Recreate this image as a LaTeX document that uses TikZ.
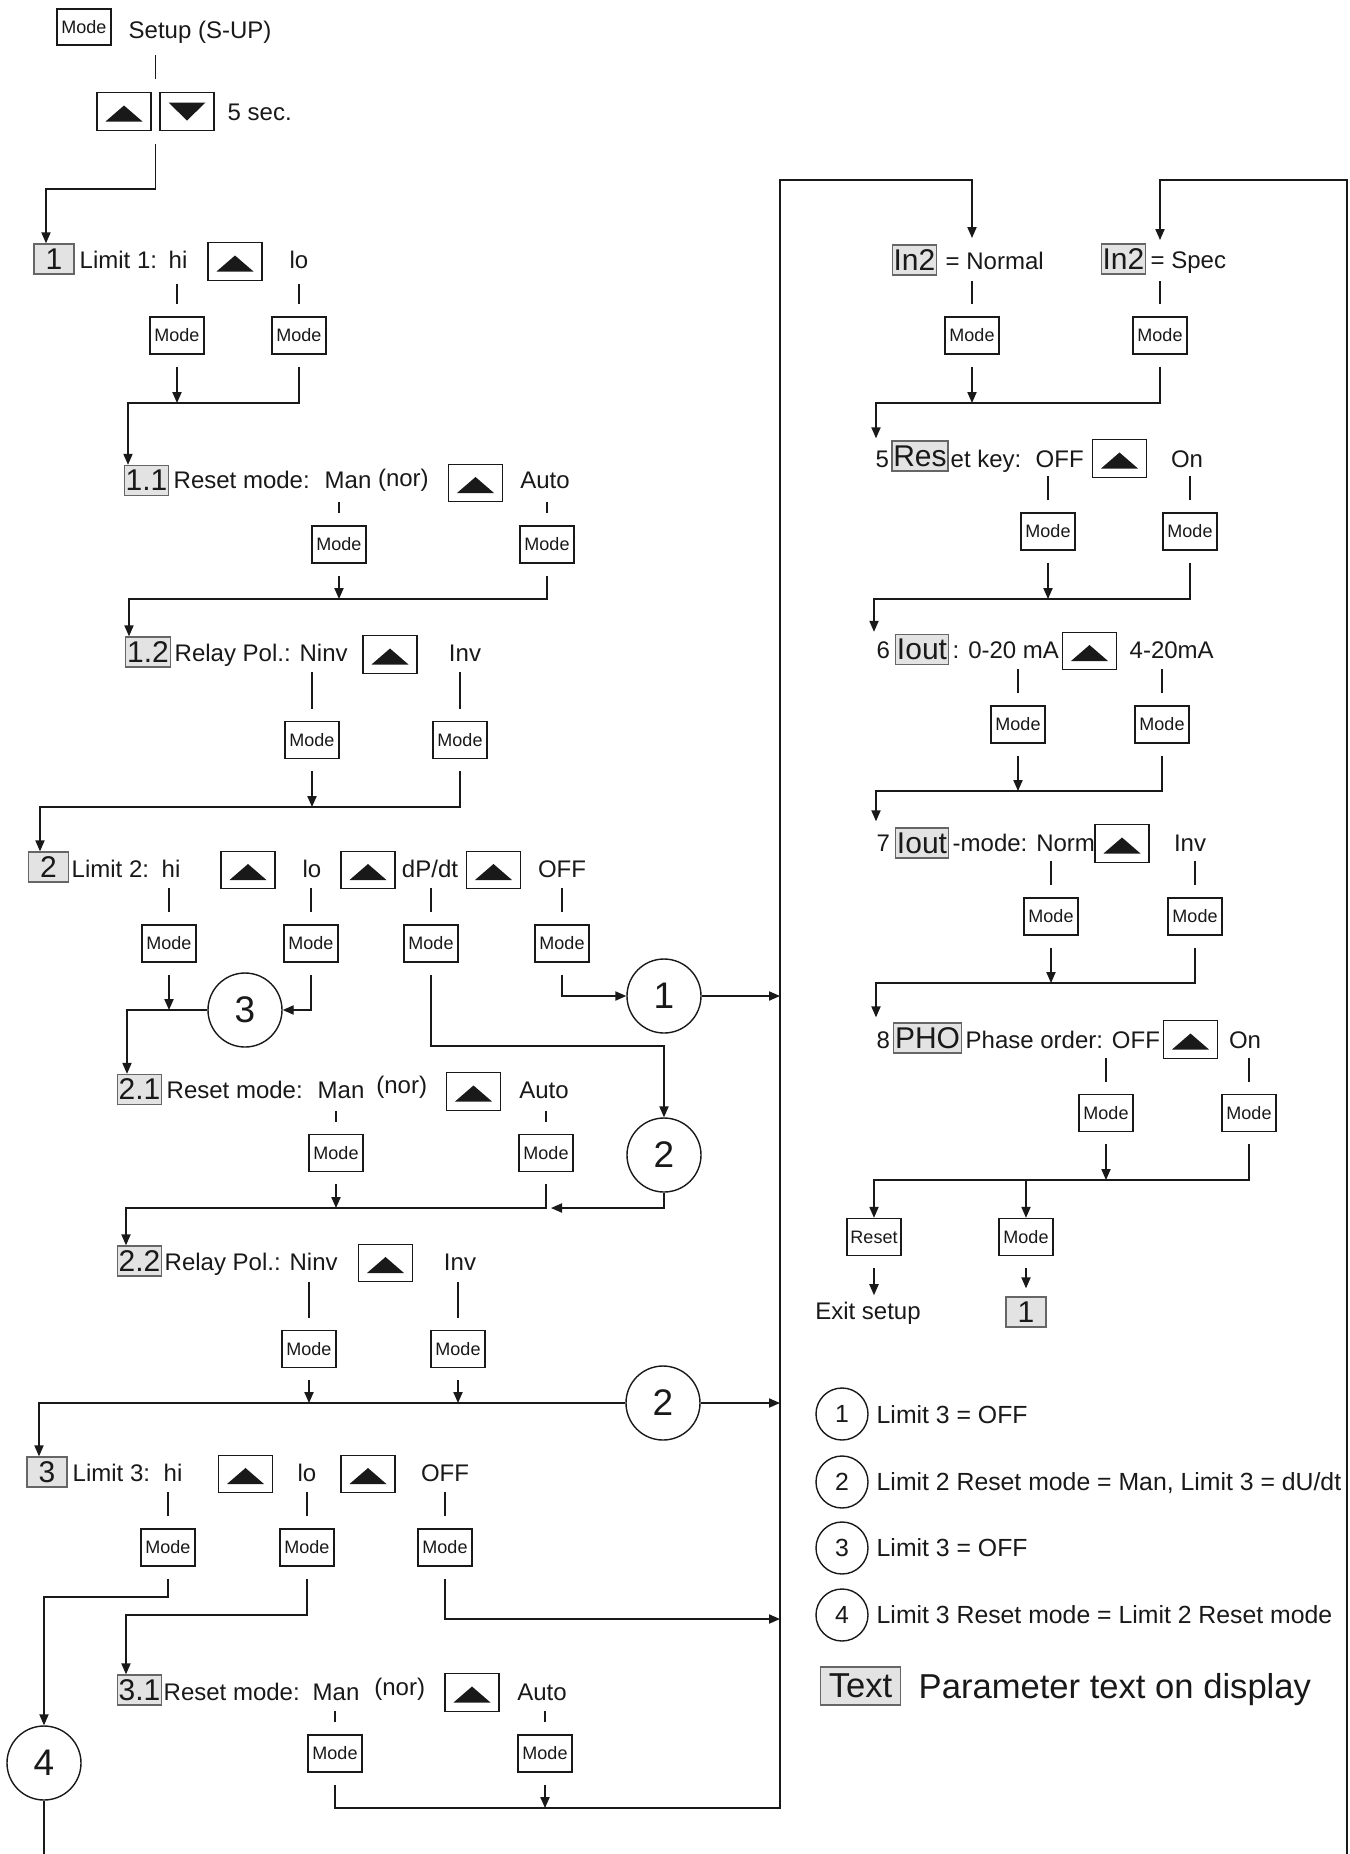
\documentclass[tikz,border=0pt]{standalone}
\usepackage{fontspec}
\setmainfont{Liberation Sans}
\usetikzlibrary{arrows.meta,calc}
\newcommand{\fsz}[1]{\fontsize{#1}{#1}\selectfont}
\begin{document}
\begin{tikzpicture}[x=0.5pt,y=-0.5pt,line width=0.7pt,color=black!90,
 arr/.style={-{Triangle[length=5.5pt,width=4.6pt]}},
 lbl/.style={inner sep=0pt,anchor=base west,font=\fsz{12}},
 opt/.style={inner sep=0pt,anchor=base,font=\fsz{12}},
 lg/.style={inner sep=0pt,anchor=base west,font=\fsz{12.4}},
 gbox/.style={draw=black!60,fill=black!11,inner xsep=0.7pt,inner ysep=0pt,minimum width=20pt,minimum height=15pt,font=\fsz{15}},
 modekey/.style={draw,inner sep=0pt,minimum width=27pt,minimum height=18.5pt,font=\fsz{9}},
 upkey/.style={draw,inner sep=0pt,minimum width=27pt,minimum height=18.75pt,
   path picture={\fill ([shift={(-9.25pt,-5pt)}]path picture bounding box.center) -- ++(18.5pt,0pt) -- ++(-9.25pt,8pt) -- cycle;}},
 downkey/.style={draw,inner sep=0pt,minimum width=27pt,minimum height=18.75pt,
   path picture={\fill ([shift={(-9.25pt,4.5pt)}]path picture bounding box.center) -- ++(18.5pt,0pt) -- ++(-9.25pt,-9pt) -- cycle;}},
 bigc/.style={circle,draw,inner sep=0pt,minimum size=37pt,font=\fsz{18.5}},
 smallc/.style={circle,draw,inner sep=0pt,minimum size=26pt,font=\fsz{12.4}},
]
\useasboundingbox (0,0) rectangle (1350,1854);
\fill[white] (0,0) rectangle (1350,1854);

% ---------- nodes: top ----------
\node[modekey,minimum height=18pt] (mtop) at (84,27) {Mode};
\node[lbl] (tsetup) at (128,38) {Setup (S-UP)};
\node[upkey] (ktu) at (124,111.5) {};
\node[downkey] (ktd) at (187,111.5) {};
\node[lbl] (t5s) at (227,120) {5 sec.};

% row 1
\node[gbox] (b1) at (54,259) {1};
\node[lbl] (t1) at (79,268) {Limit 1:};
\node[opt] (o1a) at (178,268) {hi};
\node[upkey] (k1) at (235,261.5) {};
\node[opt] (o1b) at (299,268) {lo};
\node[modekey] (m1a) at (177,335.5) {Mode};
\node[modekey] (m1b) at (299,335.5) {Mode};

% row 1.1
\node[gbox] (b11) at (146.5,480.5) {1.1};
\node[lbl] (t11) at (173,488) {Reset mode:};
\node[lbl] (o11a) at (324,488) {Man \raisebox{1pt}{(nor)}};
\node[upkey] (k11) at (475.5,483) {};
\node[opt] (o11b) at (545,488) {Auto};
\node[modekey] (m11a) at (339,544.5) {Mode};
\node[modekey] (m11b) at (547,544.5) {Mode};

% row 1.2
\node[gbox] (b12) at (148,652) {1.2};
\node[lbl] (t12) at (174,661) {Relay Pol.: Ninv};
\node[upkey] (k12) at (390,654.5) {};
\node[opt] (o12b) at (465,661) {Inv};
\node[modekey] (m12a) at (312,740) {Mode};
\node[modekey] (m12b) at (460,740) {Mode};

% row 2
\node[gbox] (b2) at (48.5,867) {2};
\node[lbl] (t2) at (71,877) {Limit 2:};
\node[opt] (o2a) at (171,877) {hi};
\node[upkey] (k2a) at (248,870) {};
\node[opt] (o2b) at (312,877) {lo};
\node[upkey] (k2b) at (368,870) {};
\node[opt] (o2c) at (430,877) {dP/dt};
\node[upkey] (k2c) at (493.5,870) {};
\node[opt] (o2d) at (562,877) {OFF};
\node[modekey] (m2a) at (169,943.5) {Mode};
\node[modekey] (m2b) at (311,943.5) {Mode};
\node[modekey] (m2c) at (431,943.5) {Mode};
\node[modekey] (m2d) at (562,943.5) {Mode};
\node[bigc] (c3) at (245,1010) {3};
\node[bigc] (c1) at (664,996) {1};
\node[bigc] (c2) at (664,1155) {2};

% row 2.1
\node[gbox] (b21) at (139.5,1089.5) {2.1};
\node[lbl] (t21) at (166,1098) {Reset mode:};
\node[lbl] (o21a) at (317,1098) {Man\hspace{6pt}\raisebox{2.5pt}{(nor)}};
\node[upkey] (k21) at (473.5,1091.5) {};
\node[opt] (o21b) at (544,1098) {Auto};
\node[modekey] (m21a) at (336,1153) {Mode};
\node[modekey] (m21b) at (546,1153) {Mode};

% row 2.2
\node[gbox] (b22) at (139.5,1261) {2.2};
\node[lbl] (t22) at (164,1270) {Relay Pol.: Ninv};
\node[upkey] (k22) at (385.5,1263) {};
\node[opt] (o22b) at (460,1270) {Inv};
\node[modekey] (m22a) at (309,1349) {Mode};
\node[modekey] (m22b) at (458,1349) {Mode};
\node[bigc] (c2b) at (663,1403) {2};

% row 3
\node[gbox] (b3) at (47,1472) {3};
\node[lbl] (t3) at (72,1481) {Limit 3:};
\node[opt] (o3a) at (173,1481) {hi};
\node[upkey] (k3a) at (245.5,1474) {};
\node[opt] (o3b) at (307,1481) {lo};
\node[upkey] (k3b) at (368,1474) {};
\node[opt] (o3c) at (445,1481) {OFF};
\node[modekey] (m3a) at (168,1547.5) {Mode};
\node[modekey] (m3b) at (307,1547.5) {Mode};
\node[modekey] (m3c) at (445,1547.5) {Mode};
\node[bigc] (c4) at (44,1763) {4};

% row 3.1
\node[gbox] (b31) at (139.5,1690) {3.1};
\node[lbl] (t31) at (163,1700) {Reset mode:};
\node[lbl] (o31a) at (312,1700) {Man\hspace{7.5pt}\raisebox{2.5pt}{(nor)}};
\node[upkey] (k31) at (472,1692.5) {};
\node[opt] (o31b) at (542,1700) {Auto};
\node[modekey] (m31a) at (335,1753.5) {Mode};
\node[modekey] (m31b) at (545,1753.5) {Mode};

% right column: In2
\node[gbox] (bi1) at (914.5,260) {In2};
\node[lbl] (ti1) at (945,269) {= Normal};
\node[gbox] (bi2) at (1123.5,259) {In2};
\node[lbl] (ti2) at (1150,268) {= Spec};
\node[modekey] (mi1) at (972,335.5) {Mode};
\node[modekey] (mi2) at (1160,335.5) {Mode};

% row 5
\node[lbl] (n5) at (875,467) {5};
\node[gbox] (b5) at (920,456) {Res};
\node[lbl] (t5) at (950,467) {et key:};
\node[lbl] (o5a) at (1035,467) {OFF};
\node[upkey] (k5) at (1119.5,458.5) {};
\node[opt] (o5b) at (1187,467) {On};
\node[modekey] (m5a) at (1048,531.5) {Mode};
\node[modekey] (m5b) at (1190,531.5) {Mode};

% row 6
\node[lbl] (n6) at (876,658) {6};
\node[gbox] (b6) at (922,649.5) {Iout};
\node[lbl] (t6) at (952,658) {: 0-20 mA};
\node[upkey] (k6) at (1089.5,651) {};
\node[lbl] (o6b) at (1129,658) {4-20mA};
\node[modekey] (m6a) at (1018,724.5) {Mode};
\node[modekey] (m6b) at (1162,724.5) {Mode};

% row 7
\node[lbl] (n7) at (876,851) {7};
\node[gbox] (b7) at (922,843) {Iout};
\node[lbl] (t7) at (952,851) {-mode: Norm};
\node[upkey] (k7) at (1122,843.5) {};
\node[opt] (o7b) at (1190,851) {Inv};
\node[modekey] (m7a) at (1051,916.5) {Mode};
\node[modekey] (m7b) at (1195,916.5) {Mode};

% row 8
\node[lbl] (n8) at (876,1048) {8};
\node[gbox] (b8) at (927.5,1038) {PHO};
\node[lbl] (t8) at (965,1048) {Phase order: OFF};
\node[upkey] (k8) at (1190.5,1039.5) {};
\node[opt] (o8b) at (1245,1048) {On};
\node[modekey] (m8a) at (1106,1113) {Mode};
\node[modekey] (m8b) at (1249,1113) {Mode};
\node[modekey] (reset) at (874,1237) {Reset};
\node[modekey] (mfin) at (1026,1237) {Mode};
\node[opt] (exit) at (868,1319) {Exit setup};
\node[gbox] (bend) at (1026,1312) {1};

% legend
\node[smallc] (l1) at (842,1414) {1};
\node[lg] (lt1) at (876,1423) {Limit 3 = OFF};
\node[smallc] (l2) at (842,1482) {2};
\node[lg] (lt2) at (876,1490) {Limit 2 Reset mode = Man, Limit 3 = dU/dt};
\node[smallc] (l3) at (842,1548) {3};
\node[lg] (lt3) at (876,1556) {Limit 3 = OFF};
\node[smallc] (l4) at (842,1615) {4};
\node[lg] (lt4) at (876,1623) {Limit 3 Reset mode = Limit 2 Reset mode};
\node[gbox,font=\fsz{17.3},inner xsep=4pt,minimum height=19pt] (ltext) at (860.5,1686) {Text};
\node[lbl,font=\fsz{17.3}] (ltt) at (918,1698) {Parameter text on display};

% ---------- coordinates ----------
\coordinate (j0) at (46,189);
\coordinate (j1) at (128,403);
\coordinate (j2) at (129,599);
\coordinate (j3) at (40,807);
\coordinate (j4) at (127,1010);
\coordinate (j5) at (664,1046);
\coordinate (j6) at (126,1208);
\coordinate (j7) at (39,1403);
\coordinate (j8) at (44,1597);
\coordinate (j9) at (126,1615);
\coordinate (j10) at (780,1619);
\coordinate (j11) at (780,1808);
\coordinate (vtop) at (780,180);
\coordinate (vrb) at (1347,1854);
\coordinate (in2a) at (972,238);
\coordinate (in2b) at (1160,240);
\coordinate (j12) at (876,403);
\coordinate (j13) at (874,599);
\coordinate (j14) at (876,791);
\coordinate (j15) at (876,983);
\coordinate (j16) at (874,1180);
\coordinate (pgbot) at (44,1854);

% ---------- connectors ----------
% top
\draw ($(ktu.north east)!0.5!(ktd.north west)$) ++(0,-13) -- ++(0,-24);
\draw[arr] ($(ktu.south east)!0.5!(ktd.south west)$) ++(0,13) |- (j0) -- (j0 |- b1.north);
% row 1
\draw ([yshift=6pt]m1a.north) -- ++(0,-20);
\draw ([yshift=6pt]m1b.north) -- ++(0,-20);
\draw[arr] ([yshift=-6pt]m1a.south) -- (m1a.south |- j1);
\draw[arr] ([yshift=-6pt]m1b.south) |- (j1) -- (j1 |- b11.north);
% row 1.1
\draw ([yshift=6pt]m11a.north) -- ++(0,-11);
\draw ([yshift=6pt]m11b.north) -- ++(0,-11);
\draw[arr] ([yshift=-6pt]m11a.south) -- (m11a.south |- j2);
\draw[arr] ([yshift=-6pt]m11b.south) |- (j2) -- (j2 |- b12.north);
% row 1.2
\draw ([yshift=6pt]m12a.north) -- ++(0,-37);
\draw ([yshift=6pt]m12b.north) -- ++(0,-37);
\draw[arr] ([yshift=-6pt]m12a.south) -- (m12a.south |- j3);
\draw[arr] ([yshift=-6pt]m12b.south) |- (j3) -- (j3 |- b2.north);
% row 2
\foreach \m in {m2a,m2b,m2c,m2d} {\draw ([yshift=6pt]\m.north) -- ++(0,-24);}
\draw[arr] ([yshift=-6pt]m2a.south) -- (m2a.south |- j4);
\draw[arr] (c3.west) -- (j4) -- (j4 |- b21.north);
\draw[arr] ([yshift=-6pt]m2b.south) |- (c3.east);
\draw[arr] ([yshift=-6pt]m2c.south) |- (j5) -- (c2.north);
\draw[arr] ([yshift=-6pt]m2d.south) |- (c1.west);
\draw[arr] (c1.east) -- (c1.east -| vtop);
% row 2.1
\draw ([yshift=6pt]m21a.north) -- ++(0,-11);
\draw ([yshift=6pt]m21b.north) -- ++(0,-11);
\draw[arr] ([yshift=-6pt]m21a.south) -- (m21a.south |- j6);
\draw[arr] ([yshift=-6pt]m21b.south) |- (j6) -- (j6 |- b22.north);
\draw[arr] (c2.south) |- ([xshift=2.5pt]m21b.south |- j6);
% row 2.2
\draw ([yshift=6pt]m22a.north) -- ++(0,-36);
\draw ([yshift=6pt]m22b.north) -- ++(0,-36);
\draw[arr] ([yshift=-6pt]m22a.south) -- (m22a.south |- j7);
\draw[arr] ([yshift=-6pt]m22b.south) -- (m22b.south |- j7);
\draw[arr] (c2b.west) -- (j7) -- (j7 |- b3.north);
\draw[arr] (c2b.east) -- (c2b.east -| vtop);
% row 3
\foreach \m in {m3a,m3b,m3c} {\draw ([yshift=6pt]\m.north) -- ++(0,-24);}
\draw[arr] ([yshift=-6pt]m3a.south) |- (j8) -- (c4.north);
\draw (c4.south) -- (pgbot);
\draw[arr] ([yshift=-6pt]m3b.south) |- (j9) -- (j9 |- b31.north);
\draw[arr] ([yshift=-6pt]m3c.south) |- (j10);
% row 3.1
\draw ([yshift=6pt]m31a.north) -- ++(0,-11);
\draw ([yshift=6pt]m31b.north) -- ++(0,-11);
\draw[arr] ([yshift=-6pt]m31a.south) |- (j11) -- (vtop) -| (in2a);
\draw[arr] ([yshift=-6pt]m31b.south) -- (m31b.south |- j11);
\draw[arr] (vrb) |- (in2b |- vtop) -- (in2b);
% In2
\draw ([yshift=6pt]mi1.north) -- ++(0,-23);
\draw ([yshift=6pt]mi2.north) -- ++(0,-23);
\draw[arr] ([yshift=-6pt]mi1.south) -- (mi1.south |- j12);
\draw[arr] ([yshift=-6pt]mi2.south) |- (j12) -- ([yshift=1pt]j12 |- b5.north);
% row 5
\draw ([yshift=6pt]m5a.north) -- ++(0,-24);
\draw ([yshift=6pt]m5b.north) -- ++(0,-24);
\draw[arr] ([yshift=-6pt]m5a.south) -- (m5a.south |- j13);
\draw[arr] ([yshift=-6pt]m5b.south) |- (j13) -- ([yshift=1pt]j13 |- b6.north);
% row 6
\draw ([yshift=6pt]m6a.north) -- ++(0,-24);
\draw ([yshift=6pt]m6b.north) -- ++(0,-24);
\draw[arr] ([yshift=-6pt]m6a.south) -- (m6a.south |- j14);
\draw[arr] ([yshift=-6pt]m6b.south) |- (j14) -- ([yshift=3pt]j14 |- b7.north);
% row 7
\draw ([yshift=6pt]m7a.north) -- ++(0,-24);
\draw ([yshift=6pt]m7b.north) -- ++(0,-24);
\draw[arr] ([yshift=-6pt]m7a.south) -- (m7a.south |- j15);
\draw[arr] ([yshift=-6pt]m7b.south) |- (j15) -- ([yshift=2.5pt]j15 |- b8.north);
% row 8
\draw ([yshift=6pt]m8a.north) -- ++(0,-24);
\draw ([yshift=6pt]m8b.north) -- ++(0,-24);
\draw[arr] ([yshift=-6pt]m8a.south) -- (m8a.south |- j16);
\draw[arr] ([yshift=-6pt]m8b.south) |- (j16) -- (reset.north);
\draw[arr] (mfin.north |- j16) -- (mfin.north);
\draw[arr] ([yshift=-6pt]reset.south) -- ++(0,27);
\draw[arr] ([yshift=-6pt]mfin.south) -- ([yshift=4pt]bend.north);
\end{tikzpicture}
\end{document}
